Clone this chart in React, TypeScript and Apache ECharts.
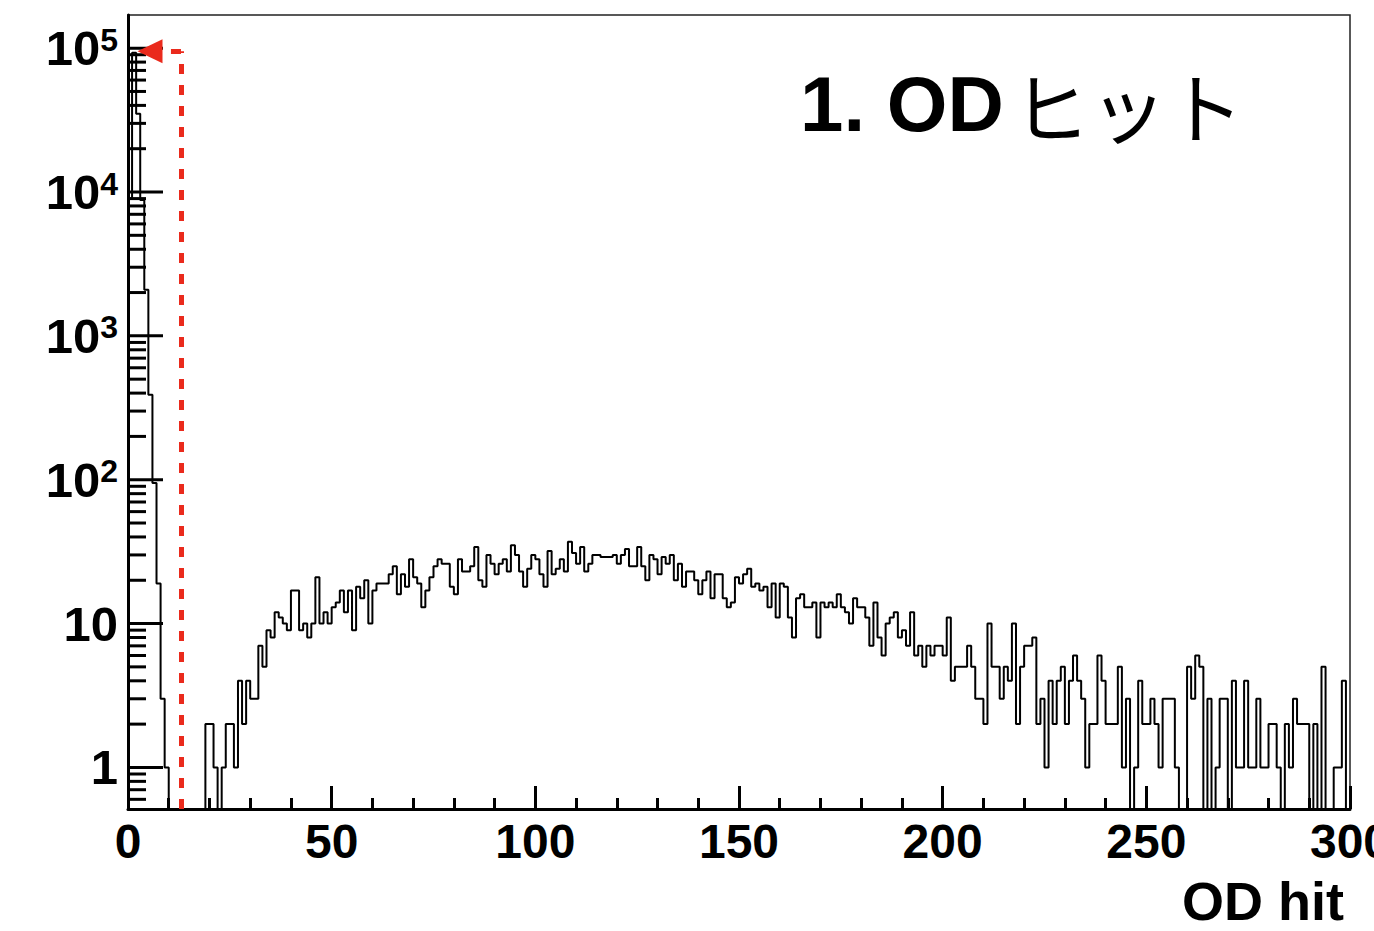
import React, { useEffect, useRef } from 'react';
import * as echarts from 'echarts';

// Histogram: counts per 1-hit bin, bins starting at 0 .. 299
const BIN_COUNTS: number[] = [
  9000, 93000, 35000, 8800, 2090, 389, 95, 19, 3, 1,
  0, 0, 0, 0, 0, 0, 0, 0, 0, 2,
  2, 1, 0, 1, 2, 2, 1, 4, 2, 4,
  3, 3, 7, 5, 9, 8, 12, 11, 10, 9,
  17, 17, 9, 10, 8, 10, 21, 10, 12, 10,
  13, 14, 17, 12, 17, 9, 18, 15, 20, 10,
  17, 19, 19, 19, 22, 25, 16, 22, 18, 28,
  21, 19, 13, 17, 21, 25, 28, 26, 26, 18,
  16, 28, 23, 23, 25, 34, 20, 18, 30, 26,
  22, 26, 28, 23, 35, 30, 23, 18, 24, 30,
  28, 22, 18, 32, 22, 24, 28, 23, 37, 31,
  26, 34, 23, 26, 30, 30, 29, 29, 29, 30,
  26, 30, 33, 25, 25, 34, 25, 20, 30, 28,
  22, 29, 26, 30, 20, 26, 18, 23, 23, 20,
  16, 20, 23, 15, 22, 22, 15, 13, 14, 21,
  19, 22, 24, 18, 19, 17, 18, 13, 19, 11,
  19, 18, 11, 8, 15, 16, 13, 13, 14, 8,
  14, 13, 14, 13, 16, 13, 12, 10, 15, 13,
  13, 11, 7, 14, 8, 6, 10, 11, 12, 8,
  9, 7, 12, 6, 7, 5, 7, 6, 7, 7,
  6, 11, 4, 5, 5, 5, 7, 5, 3, 3,
  2, 10, 5, 5, 3, 5, 4, 10, 2, 5,
  7, 7, 8, 2, 3, 1, 4, 2, 4, 5,
  2, 4, 6, 4, 3, 1, 2, 2, 6, 4,
  2, 2, 2, 5, 1, 3, 0, 1, 4, 2,
  2, 3, 2, 1, 3, 3, 3, 1, 0, 0,
  5, 3, 6, 5, 0, 3, 0, 1, 3, 3,
  0, 4, 1, 1, 4, 1, 1, 3, 1, 1,
  2, 2, 1, 0, 2, 1, 3, 2, 2, 2,
  0, 2, 0, 5, 0, 0, 1, 1, 4, 0,
];
const BIN_START = 0;
const BIN_WIDTH = 1;

const X_MIN = 0;
const X_MAX = 300;
const X_STEP = 50;

const Y_MIN = 0.514;
const Y_MAX = 1.7e5;
const EMPTY_BIN_LEVEL = 0.1; // empty bins drop below the frame

const Y_MAJOR_TICKS = [1, 10, 100, 1000, 10000, 100000];
const Y_MINOR_TICKS = [
  0.6, 0.7, 0.8, 0.9,
  2, 3, 4, 5, 6, 7, 8, 9,
  20, 30, 40, 50, 60, 70, 80, 90,
  200, 300, 400, 500, 600, 700, 800, 900,
  2000, 3000, 4000, 5000, 6000, 7000, 8000, 9000,
  20000, 30000, 40000, 50000, 60000, 70000, 80000, 90000,
];

// Cut marker
const CUT_X = 13;
const ARROW_Y = 9.5e4;
const ARROW_END_X = 5.4;

const TITLE_LATIN = '1. OD';
const TITLE_KANA = 'ヒット';
const X_TITLE = 'OD hit';

const FONT = "'Liberation Sans', Arial, Helvetica, sans-serif";
const CJK_FONT = "'Noto Sans CJK JP', 'Noto Sans CJK SC', sans-serif";
const RED = '#ea2a1c';

export default function App() {
  const ref = useRef<HTMLDivElement>(null);

  useEffect(() => {
    if (!ref.current) return;
    const chart = echarts.init(ref.current, undefined, { renderer: 'svg' });

    const histPoints: number[][] = BIN_COUNTS.map((c, i) => [
      BIN_START + i * BIN_WIDTH,
      c > 0 ? c : EMPTY_BIN_LEVEL,
    ]);
    const last = BIN_COUNTS[BIN_COUNTS.length - 1];
    histPoints.push([BIN_START + BIN_COUNTS.length * BIN_WIDTH, last > 0 ? last : EMPTY_BIN_LEVEL]);

    const tickData = [
      ...Y_MAJOR_TICKS.map((v) => [X_MIN, v, 1]),
      ...Y_MINOR_TICKS.map((v) => [X_MIN, v, 0]),
    ];

    chart.setOption({
      animation: false,
      backgroundColor: '#ffffff',
      grid: {
        left: 128,
        right: 24,
        top: 15,
        bottom: 122,
        show: true,
        borderColor: '#222',
        borderWidth: 1.5,
        containLabel: false,
        outerBoundsMode: 'none',
      },
      xAxis: {
        type: 'value',
        min: X_MIN,
        max: X_MAX,
        interval: X_STEP,
        axisLine: { onZero: false, lineStyle: { color: '#000', width: 3 } },
        axisTick: { inside: true, length: 23, lineStyle: { color: '#000', width: 3 } },
        minorTick: { show: true, splitNumber: 5, length: 11, lineStyle: { color: '#000', width: 3 } },
        splitLine: { show: false },
        minorSplitLine: { show: false },
        axisLabel: {
          color: '#000',
          fontFamily: FONT,
          fontSize: 48,
          fontWeight: 'bold',
          margin: 8,
          showMinLabel: true,
          showMaxLabel: true,
        },
      },
      yAxis: {
        type: 'log',
        logBase: 10,
        min: Y_MIN,
        max: Y_MAX,
        axisLine: { show: true, onZero: false, lineStyle: { color: '#000', width: 3 } },
        axisTick: { show: false },
        splitLine: { show: false },
        axisLabel: {
          showMinLabel: false,
          showMaxLabel: false,
          margin: 10,
          color: '#000',
          fontFamily: FONT,
          fontSize: 48,
          fontWeight: 'bold',
          formatter: (v: number) => {
            const e = Math.log10(v);
            const r = Math.round(e);
            if (Math.abs(e - r) > 1e-6) return '';
            if (r === 0) return '{b|1}';
            if (r === 1) return '{b|10}';
            return '{b|10}{s|' + r + '}';
          },
          rich: {
            b: { fontFamily: FONT, fontSize: 49, fontWeight: 'bold', color: '#000' },
            s: { fontFamily: FONT, fontSize: 32, fontWeight: 'bold', color: '#000', verticalAlign: 'top' },
          },
        },
      },
      series: [
        {
          type: 'custom',
          silent: true,
          z: 3,
          clip: false,
          data: tickData,
          encode: { x: 0, y: 1 },
          renderItem: (_params: any, api: any) => {
            const p = api.coord([api.value(0), api.value(1)]);
            const len = api.value(2) ? 35 : 18;
            return {
              type: 'line',
              shape: { x1: p[0], y1: p[1], x2: p[0] + len, y2: p[1] },
              style: { stroke: '#000', lineWidth: 3 },
            };
          },
        },
        {
          type: 'line',
          data: histPoints,
          step: 'end',
          showSymbol: false,
          symbol: 'none',
          clip: true,
          z: 4,
          lineStyle: { color: '#000', width: 2 },
          markLine: {
            silent: true,
            symbol: ['none', 'none'],
            label: { show: false },
            lineStyle: { color: RED, type: [10, 11], width: 5 },
            data: [
              [
                { coord: [CUT_X, Y_MIN], symbol: 'none' },
                { coord: [CUT_X, ARROW_Y], symbol: 'none' },
              ],
              [
                { coord: [CUT_X, ARROW_Y], symbol: 'none' },
                { coord: [ARROW_END_X, ARROW_Y], symbol: 'triangle', symbolSize: [24, 25] },
              ],
            ],
          },
        },
      ],
      graphic: [
        {
          type: 'text',
          x: 800,
          y: 104,
          style: {
            text: '{a|' + TITLE_LATIN + '}{b|' + TITLE_KANA + '}',
            align: 'left',
            verticalAlign: 'middle',
            rich: {
              a: { fontFamily: FONT, fontWeight: 'bold', fontSize: 78, fill: '#000', color: '#000' },
              b: {
                fontFamily: CJK_FONT,
                fontWeight: 'normal',
                fontSize: 77,
                fill: '#000',
                color: '#000',
                padding: [0, 0, 0, 9],
              },
            },
          },
        },
        {
          type: 'text',
          x: 1344,
          y: 901,
          style: {
            text: X_TITLE,
            fontFamily: FONT,
            fontWeight: 'bold',
            fontSize: 54,
            lineHeight: 44,
            fill: '#000',
            align: 'right',
            verticalAlign: 'middle',
          },
        },
      ],
    });

    return () => chart.dispose();
  }, []);

  return (
    <div
      ref={ref}
      style={{ position: 'fixed', left: 0, top: 0, width: 1374, height: 931, background: '#fff' }}
    />
  );
}
